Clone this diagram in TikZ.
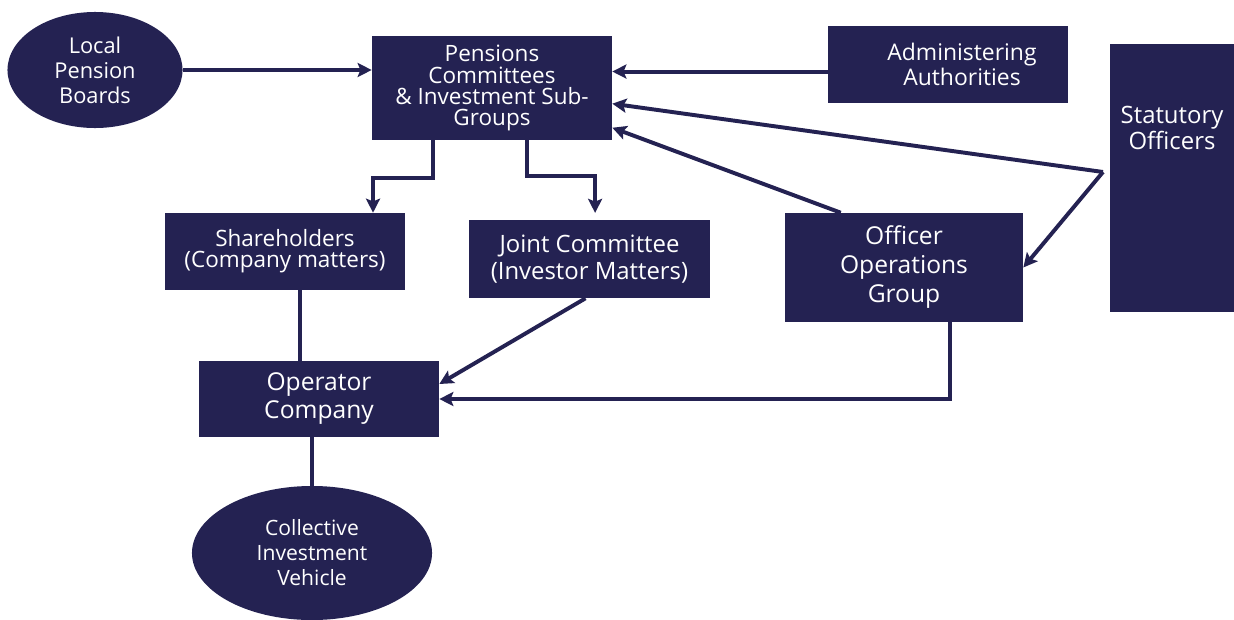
\documentclass[tikz,border=0pt]{standalone}
\usepackage{fontspec}
\setmainfont{Open Sans}
\usepackage{tikz}
\usetikzlibrary{positioning, calc, arrows.meta, shapes.geometric}
\definecolor{navy}{RGB}{36,34,82}
\newcommand{\fs}[2]{\fontsize{#1}{#2}\selectfont}
\tikzstyle{box} = [rectangle, fill=navy, text=white, align=center, inner sep=0pt, font=\fs{16}{15}]
\tikzstyle{blob} = [ellipse, fill=navy, text=white, align=center, inner sep=0pt, font=\fs{15.5}{17.8}]
\tikzstyle{feed} = [navy, line width=2.8pt, -{Stealth[length=10pt,width=10pt,inset=2pt]}]
\tikzstyle{tie} = [navy, line width=2.8pt]

\begin{document}
\begin{tikzpicture}[x=0.025cm, y=-0.025cm]
    \useasboundingbox (0,0) rectangle (1234,619);
    \node[blob, minimum width=4.375cm, minimum height=2.9cm] (local) at (95,70) {Local\\Pension\\Boards};
    \node[box, minimum width=6cm, minimum height=2.6cm] (pens) at (492,88) {Pensions\\Committees\\\& Investment Sub-\\Groups};
    \node[box, minimum width=6cm, minimum height=1.925cm, font=\fs{16.3}{14.5}] (admin) at (948,64.5) {\hspace*{0.7cm}Administering\\\hspace*{0.7cm}Authorities};
    \node[box, minimum width=3.1cm, minimum height=6.7cm,
        label={[anchor=north, yshift=-1.45cm, text=white, align=center, font=\fs{17}{14.5}]north:{Statutory\\Officers}}] (stat) at (1172,178) {};
    \node[box, minimum width=6cm, minimum height=1.925cm, font=\fs{16}{15}] (share) at (285,251.5) {Shareholders\\(Company matters)};
    \node[box, minimum width=6.025cm, minimum height=1.95cm, font=\fs{17}{19.2}] (joint) at (589.5,259) {Joint Committee\\(Investor Matters)};
    \node[box, minimum width=5.95cm, minimum height=2.725cm, font=\fs{17.5}{20.6}] (offops) at (904,267.5) {Officer\\Operations\\Group};
    \node[box, minimum width=6cm, minimum height=1.9cm, font=\fs{17.5}{19.9}] (oper) at (319,399) {Operator\\Company};
    \node[blob, minimum width=6cm, minimum height=3.35cm, font=\fs{15}{17.8}] (civ) at (312,553) {Collective\\Investment\\Vehicle};
    \coordinate (fork) at (1103,172);

    \draw[feed] (local.east) -- (local.east -| pens.west);
    \draw[feed] ([yshift=-5pt]admin.west) -- ([yshift=-5pt]admin.west -| pens.east);
    \draw[feed] (fork) -- ($(pens.south east)!0.35!(pens.north east)$);
    \draw[feed] (fork) -- (offops.east);
    \draw[feed] ($(offops.north west)!0.235!(offops.north east)$) -- ($(pens.south east)!0.12!(pens.north east)$);
    \draw[feed] ([xshift=-1.475cm]pens.south) -- ++(0,38) -| ([xshift=2.2cm]share.north);
    \draw[feed] ([xshift=0.875cm]pens.south) -- ++(0,36) -| ([shift={(0.14cm,0.17cm)}]joint.north);
    \draw[tie] ([xshift=0.375cm]share.south) -- ([xshift=0.375cm]share.south |- oper.north);
    \draw[feed] ([xshift=-0.1cm]joint.south) -- ([yshift=0.375cm]oper.east);
    \draw[feed] ([xshift=1.15cm]offops.south) |- (oper.east);
    \draw[tie] (civ.north |- oper.south) -- (civ.north);
\end{tikzpicture}
\end{document}
